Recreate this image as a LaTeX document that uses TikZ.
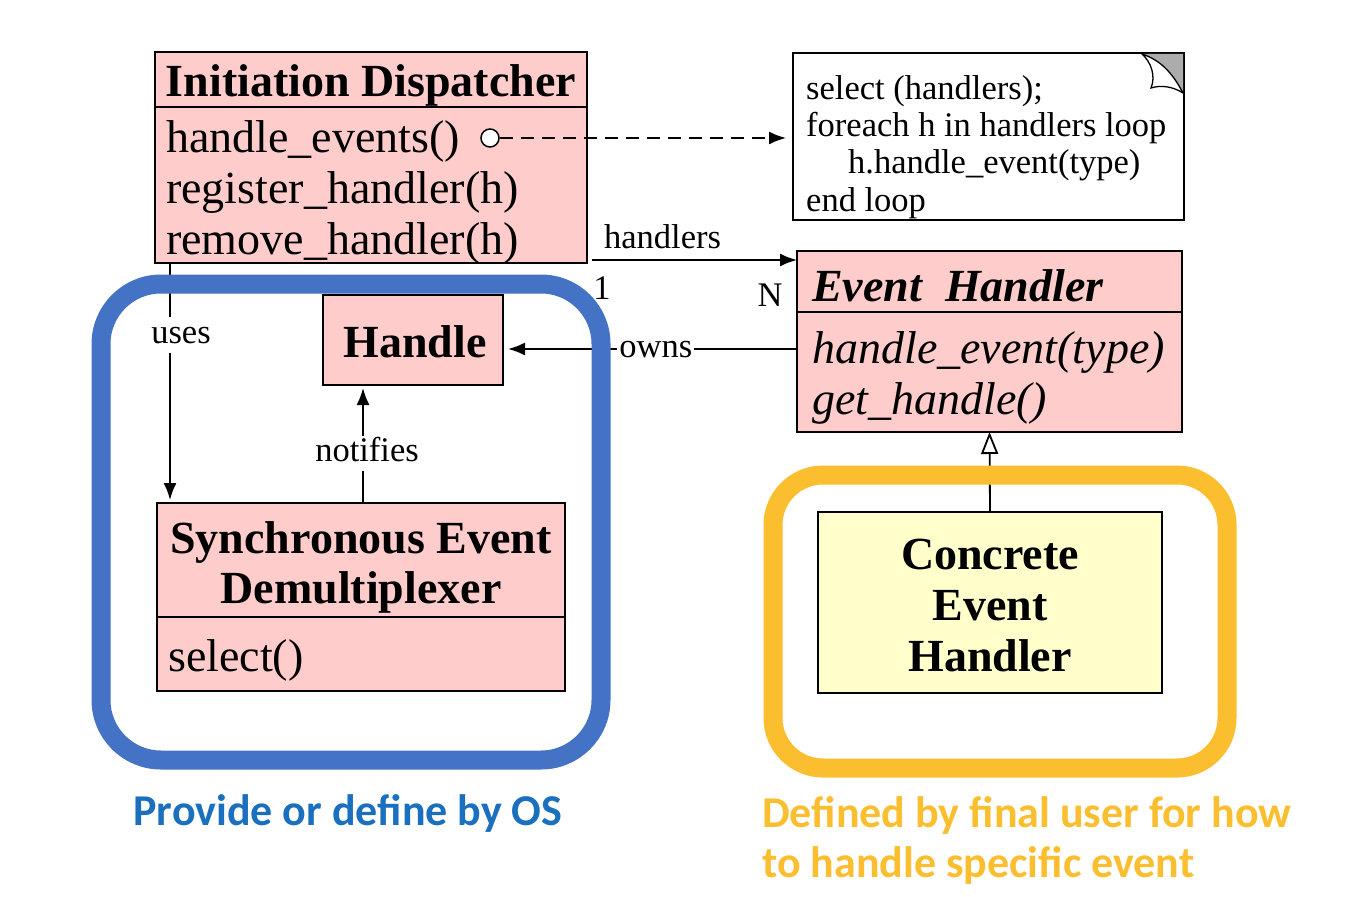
\documentclass[tikz,border=0pt]{standalone}
\usepackage{fontspec}
\setmainfont{Liberation Serif}
\newfontfamily\carlitofont{Carlito}
\usetikzlibrary{arrows.meta,calc}
\definecolor{pinkc}{HTML}{FFCCCC}
\definecolor{yelc}{HTML}{FFFFCC}
\definecolor{bluef}{HTML}{4472C4}
\definecolor{bluet}{HTML}{1A70BE}
\definecolor{orng}{HTML}{FBBE2E}
\begin{document}
\begin{tikzpicture}[x=1pt,y=-1pt,
  box/.style={draw, line width=1.8pt, fill=pinkc, inner sep=0pt, outer sep=0pt, anchor=north west},
  txt/.style={inner sep=0pt},
  mfont/.style={font=\fontsize{46}{50}\selectfont, text height=32pt, text depth=10pt, yshift=-5pt},
  bfont/.style={font=\fontsize{46}{50}\selectfont\bfseries, text height=32pt, text depth=10pt, yshift=-5pt},
  ifont/.style={font=\fontsize{46}{50}\selectfont\itshape, text height=32pt, text depth=10pt, yshift=-5pt},
  bifont/.style={font=\fontsize{46}{50}\selectfont\bfseries\itshape, text height=32pt, text depth=10pt, yshift=-5pt},
  lfont/.style={font=\fontsize{34.5}{38}\selectfont, text height=24pt, text depth=7.5pt},
  sfont/.style={font=\carlitofont\bfseries\fontsize{44}{50}\selectfont, text height=31pt, text depth=10pt, yshift=-5pt},
  conn/.style={line width=1.8pt, -{Latex[length=17pt,width=13pt]}},
  lbl/.style={txt, lfont, fill=white, inner sep=2pt},
  frame/.style={line width=19pt, anchor=north west, inner sep=0pt, outer sep=0pt},
]
\fill[white] (0,0) rectangle (1356,896);
\useasboundingbox (0,0) rectangle (1356,896);

% Initiation Dispatcher
\node[box, minimum width=432pt, minimum height=211pt] (id) at (155,52) {};
\draw[line width=1.8pt] ([yshift=-55pt]id.north west) -- ([yshift=-55pt]id.north east);
\node[txt,bfont] (idh) at (371,81) {Initiation Dispatcher};
\node[txt,mfont,anchor=west] (idm1) at (166,137) {handle\_events()};
\node[txt,mfont,anchor=west] (idm2) at (166,187) {register\_handler(h)};
\node[txt,mfont,anchor=west] (idm3) at (166,238) {remove\_handler(h)};
\node[circle,draw,fill=white,line width=1.5pt,minimum size=18pt,inner sep=0pt] (circ) at (490,138) {};

% Note
\node[draw,line width=1.5pt,fill=white,minimum width=391pt,minimum height=167pt,anchor=north west,inner sep=0pt,outer sep=0pt] (note) at (793,53) {};
\fill[gray!65] (1142,54) -- (1183,54) -- (1183,93) .. controls (1172,72) and (1160,60) .. (1142,54) -- cycle;
\draw[line width=1.3pt, fill=white] (1142,54) .. controls (1160,60) and (1172,72) .. (1183,93)
  .. controls (1172,86) and (1160,85) .. (1151,88) .. controls (1156,76) and (1151,62) .. cycle;
\node[txt,lfont,anchor=west] (n1) at (806,91) {select (handlers);};
\node[txt,lfont,anchor=west] (n2) at (806,128) {foreach h in handlers loop};
\node[txt,lfont,anchor=west] (n3) at (848,165) {h.handle\_event(type)};
\node[txt,lfont,anchor=west] (n4) at (806,203) {end loop};

% Event Handler
\node[box, minimum width=385pt, minimum height=181pt] (eh) at (797,251) {};
\draw[line width=1.8pt] ([yshift=-61pt]eh.north west) -- ([yshift=-61pt]eh.north east);
\node[txt,bifont,anchor=west] (ehh) at (812,285) {Event\ \ Handler};
\node[txt,ifont,anchor=west] (ehm1) at (812,347) {handle\_event(type)};
\node[txt,ifont,anchor=west] (ehm2) at (812,398) {get\_handle()};

% Handle
\node[box, minimum width=180pt, minimum height=90pt] (handle) at (323,295) {};
\node[txt,bfont] (handlet) at (415,341) {Handle};

% Synchronous Event Demultiplexer
\node[box, minimum width=408pt, minimum height=188pt] (sed) at (157,503) {};
\draw[line width=1.8pt] ([yshift=-114pt]sed.north west) -- ([yshift=-114pt]sed.north east);
\node[txt,bfont] (sedh1) at (361,537) {Synchronous Event};
\node[txt,bfont] (sedh2) at (361,587) {Demultiplexer};
\node[txt,mfont,anchor=west] (sedm) at (168,655) {select()};

% Concrete Event Handler
\node[box, fill=yelc, minimum width=344pt, minimum height=181pt] (ceh) at (818,512) {};
\node[txt,bfont] (c1) at (990,553) {Concrete};
\node[txt,bfont] (c2) at (990,604) {Event};
\node[txt,bfont] (c3) at (990,655) {Handler};

% connectors
\draw[conn, dash pattern=on 13pt off 8pt, shorten >=7pt] (circ.east) -- (circ.east -| note.west);
\draw[conn, shorten <=5pt] ([yshift=3pt]id.south east) -- ([yshift=3pt]id.south east -| eh.west)
  node[lbl, pos=0.36, above=1pt] (hl) {handlers};
\node[txt,lfont] (one) at (602,291) {1};
\node[txt,lfont] (nn) at (770,298) {N};
\draw[conn, shorten >=5pt] ([yshift=-9pt]handle.east -| eh.west) -- ([yshift=-9pt]handle.east)
  node[lbl, pos=0.48] (ol) {owns};
\draw[conn, shorten >=3pt] ([xshift=15pt]id.south west) -- ([xshift=15pt]id.south west |- sed.north)
  node[lbl, pos=0.3, xshift=11pt] (ul) {uses};
\draw[conn, shorten >=3pt] ([xshift=2pt]sed.north) -- ([xshift=2pt]sed.north |- handle.south)
  node[lbl, pos=0.42, xshift=4pt] (nl) {notifies};
\draw[line width=1.8pt, -{Triangle[open,length=22pt,width=17pt]}] (ceh.north) -- (eh.south);

% frames
\node[frame, draw=bluef, rounded corners=60pt, minimum width=500pt, minimum height=476pt] (osframe) at (101,284) {};
\node[frame, draw=orng, rounded corners=50pt, minimum width=454pt, minimum height=293pt] (userframe) at (773,475) {};

% captions
\node[txt, sfont, text=bluet] (osl) at (348,810) {Provide or define by OS};
\node[txt, sfont, text=orng, anchor=west] (ul1) at (762,812) {Defined by final user for how};
\node[txt, sfont, text=orng, anchor=west] (ul2) at (762,862) {to handle specific event};
\end{tikzpicture}
\end{document}
